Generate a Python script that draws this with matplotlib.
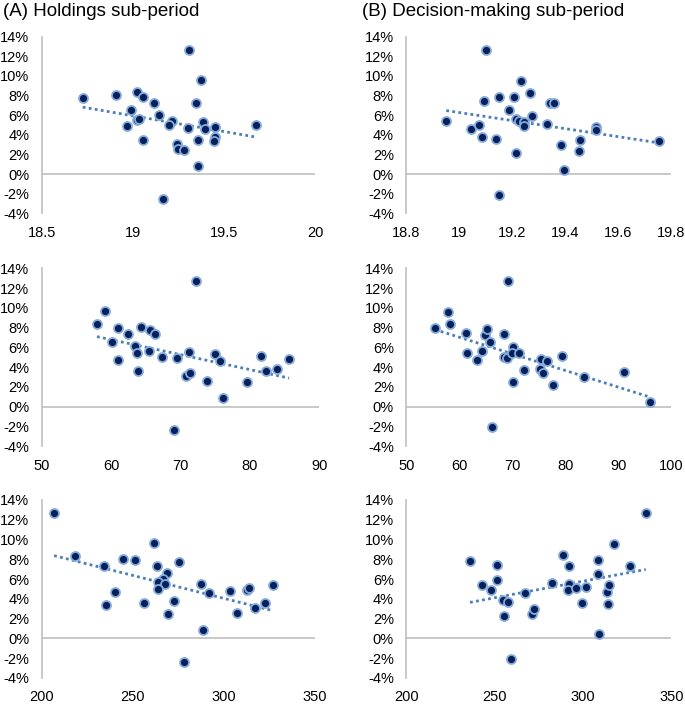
import matplotlib
matplotlib.use('Agg')
import matplotlib.pyplot as plt
from matplotlib.ticker import FuncFormatter
import numpy as np

plt.rcParams['font.family'] = ['Liberation Sans', 'DejaVu Sans']

# (A) holdings sub-period, return vs. three different characteristics
holdX1 = [18.725, 18.908, 19.023, 19.054, 19.118, 18.992, 19.142, 19.023, 19.215, 19.197,
          18.966, 19.054, 19.307, 19.376, 19.345, 19.385, 19.394, 19.305, 19.451, 19.449,
          19.444, 19.356, 19.241, 19.246, 19.281, 19.360, 19.168, 19.676, 19.035]
holdY1 = [7.71, 8.01, 8.32, 7.88, 7.27, 6.52, 6.01, 5.50, 5.43, 4.99,
          4.86, 3.50, 12.67, 9.61, 7.27, 5.30, 4.55, 4.65, 4.75, 3.74,
          3.33, 3.50, 3.06, 2.51, 2.41, 0.78, -2.51, 5.03, 5.65]

holdX2 = [57.97, 59.12, 60.95, 60.18, 62.48, 61.04, 63.49, 63.78, 63.92, 64.31,
          65.55, 66.32, 65.46, 67.38, 69.44, 69.06, 72.18, 71.22, 70.74, 71.32,
          73.86, 74.96, 75.68, 76.12, 79.67, 81.64, 82.31, 83.89, 85.67]
holdY2 = [8.40, 9.65, 7.93, 6.58, 7.32, 4.72, 6.14, 5.47, 3.58, 8.06,
          7.76, 7.32, 5.63, 5.03, 4.89, -2.36, 12.72, 5.53, 3.14, 3.44,
          2.63, 5.36, 4.62, 0.91, 2.50, 5.09, 3.61, 3.81, 4.82]

holdX3 = [206.8, 218.1, 234.4, 235.5, 240.4, 244.6, 251.0, 256.0, 261.6, 263.1,
          268.6, 266.4, 263.6, 267.7, 264.0, 269.1, 272.8, 275.2, 278.3, 287.6,
          292.0, 288.5, 303.4, 307.0, 312.9, 314.0, 317.1, 322.4, 327.1]
holdY3 = [12.69, 8.37, 7.36, 3.41, 4.72, 8.06, 7.93, 3.58, 9.62, 7.36,
          6.58, 6.04, 5.67, 5.47, 4.99, 2.50, 3.78, 7.76, -2.36, 5.50,
          4.62, 0.88, 4.82, 2.60, 4.86, 5.09, 3.07, 3.58, 5.36]

# (B) decision-making sub-period
decX1 = [18.951, 19.043, 19.073, 19.087, 19.094, 19.102, 19.140, 19.151, 19.148, 19.186,
         19.205, 19.213, 19.224, 19.244, 19.245, 19.214, 19.234, 19.268, 19.273, 19.331,
         19.342, 19.356, 19.385, 19.397, 19.457, 19.450, 19.517, 19.516, 19.755]
decY1 = [5.43, 4.62, 4.96, 3.80, 7.44, 12.67, 3.60, 7.81, -2.14, 6.49,
         7.81, 5.57, 5.40, 5.30, 4.86, 2.17, 9.51, 8.29, 5.94, 5.06,
         7.20, 7.23, 2.95, 0.37, 3.43, 2.38, 4.75, 4.48, 3.36]

decX2 = [55.40, 57.78, 58.34, 61.36, 61.48, 63.43, 64.37, 64.87, 65.18, 65.81,
         66.25, 68.51, 68.38, 68.95, 69.26, 70.14, 70.01, 70.08, 71.27, 72.21,
         75.35, 75.28, 75.78, 76.60, 77.66, 79.36, 83.50, 91.03, 95.92]
decY2 = [7.93, 9.58, 8.37, 7.49, 5.47, 4.72, 5.60, 7.25, 7.86, 6.55,
         -2.02, 7.32, 5.03, 4.89, 12.72, 6.01, 5.40, 2.46, 5.40, 3.71,
         4.86, 3.85, 3.41, 4.59, 2.23, 5.13, 3.00, 3.48, 0.44]

decX3 = [236.1, 242.9, 247.8, 251.4, 251.2, 254.8, 257.8, 255.5, 259.5, 267.4,
         271.2, 272.5, 282.3, 288.7, 291.9, 292.2, 291.7, 295.8, 299.2, 301.8,
         308.4, 308.6, 308.8, 313.7, 314.2, 314.6, 317.8, 326.9, 335.5]
decY3 = [7.83, 5.43, 4.89, 7.46, 5.94, 3.88, 3.64, 2.26, -2.06, 4.55,
         2.43, 3.00, 5.57, 8.40, 7.32, 5.53, 4.86, 5.06, 3.54, 5.16,
         7.90, 6.51, 0.44, 4.72, 3.51, 5.43, 9.55, 7.32, 12.69]

xlims = [(18.5, 20), (18.8, 19.8), (50, 90), (50, 100), (200, 350), (200, 350)]
xticks = [[18.5, 19, 19.5, 20], [18.8, 19, 19.2, 19.4, 19.6, 19.8],
          [50, 60, 70, 80, 90], [50, 60, 70, 80, 90, 100],
          [200, 250, 300, 350], [200, 250, 300, 350]]

fig = plt.figure(figsize=(6.85, 7.05), dpi=100)

boxes = [[0.0609, 0.6974, 0.399, 0.2505], [0.5931, 0.6974, 0.3869, 0.2505],
         [0.0609, 0.3671, 0.405, 0.2523], [0.5931, 0.3671, 0.3869, 0.2523],
         [0.0609, 0.0386, 0.399, 0.2522], [0.5931, 0.0386, 0.3869, 0.2522]]

data = [(holdX1, holdY1), (decX1, decY1), (holdX2, holdY2),
        (decX2, decY2), (holdX3, holdY3), (decX3, decY3)]

def fmt_x(v, pos):
    return f'{v:g}'

for i, (xs, ys) in enumerate(data):
    ax = fig.add_axes(boxes[i])
    x = np.array(xs)
    y = np.array(ys) / 100
    ax.axhline(0, color='#bfbfbf', lw=1.2, zorder=1)
    m, b = np.polyfit(x, y, 1)
    xx = np.array([x.min(), x.max()])
    ax.plot(xx, m * xx + b, ls=(0, (1, 1.2)), color='#4a7ebb', lw=2, zorder=2)
    ax.scatter(x, y, s=42, color='#06205a', edgecolors='#86aadc', linewidths=1.3, zorder=3)
    ax.set_xlim(*xlims[i])
    ax.set_ylim(-0.04, 0.14)
    ax.set_xticks(xticks[i])
    ax.set_yticks(np.arange(-0.04, 0.141, 0.02))
    ax.yaxis.set_major_formatter(FuncFormatter(lambda v, p: f'{round(v * 100):d}%'))
    ax.xaxis.set_major_formatter(FuncFormatter(fmt_x))
    for s in ['top', 'right', 'bottom']:
        ax.spines[s].set_visible(False)
    ax.spines['left'].set_color('#bfbfbf')
    ax.spines['left'].set_linewidth(1.2)
    ax.tick_params(length=0, labelsize=10.5, colors='black')
    ax.tick_params(axis='y', pad=9)
    ax.tick_params(axis='x', pad=9)
    ax.patch.set_visible(False)

fig.text(0.004, 0.983, '(A) Holdings sub-period', fontsize=13.5, va='center', ha='left')
fig.text(0.529, 0.983, '(B) Decision-making sub-period', fontsize=13.5, va='center', ha='left')

plt.savefig('out.png', dpi=100)
